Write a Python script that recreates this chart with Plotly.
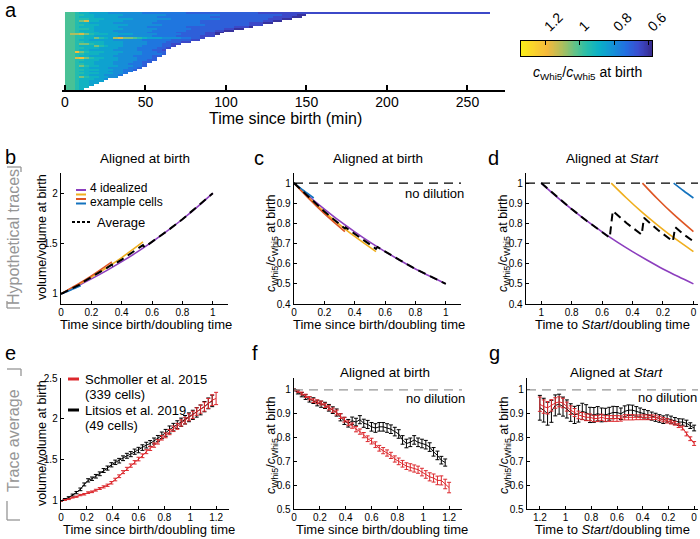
import numpy as np
import plotly.graph_objects as go

W, H = 700, 539
FONT = "Liberation Sans, Arial, sans-serif"


def px(x):
    return x / W


def py(y):
    return 1 - y / H


# ---------------- Panel a : single-cell heatmap (3-min bins) ----------------
bin_minutes = 3
level_codes = "0123456789ABCD"
level_values = [0.60, 0.65, 0.70, 0.75, 0.80, 0.85, 0.90, 0.95, 1.00, 1.05, 1.10, 1.15, 1.20, 1.25]
heat_rows = [
    "8876655554 4444443333 3333322222 2222222222 1111111111 1111111111 1111111111 1111111111 11111111",
    "8877665555 5544444444 4333333333 3322222222 2222211100",
    "8876665555 5444444443 3333333333 2222222222 222111100",
    "8877766655 5555444444 4433333333 3322222222 2211100",
    "8879B66555 5544444443 3333333322 2222222222 21100",
    "8876655555 4444444433 3333333322 2222222211 100",
    "8877666555 5554444444 3333333332 2222222211 1",
    "8876665555 5444444333 3333322222 222221110",
    "8877765555 5544444443 3333332222 2221100",
    "8876665555 4444444433 3333322222 21100",
    "8877666555 5444444333 3332222221 100",
    "8AAB976665 5555444443 3333222221 10",
    "8877665555 5444444433 3332222211 1",
    "8877669765 AB99876555 444433221",
    "8876655555 4444443333 33222211",
    "8877666655 5544444333 322211",
    "8879976655 5544444333 2211",
    "8876669765 5544443333 221",
    "8877666555 5444433332 21",
    "8876655555 4444433322 1",
    "88C9766655 5544443332 2",
    "8877666555 5444443333 2",
    "8876655555 4444333322",
    "88BC976655 544443332",
    "8877666555 544443322",
    "8876665555 44443322",
    "8877665555 4443332",
    "8879766555 5444332",
    "8876655554 444332",
    "8877666555 44332",
    "8876655554 4433",
    "8877666555 443",
    "8876655544 43",
    "8879766554 4",
    "887666554",
    "88766555",
    "8876655",
    "887665",
    "88766",
    "8876",
]
a_xticks = [0, 50, 100, 150, 200, 250]
cbar_lo, cbar_hi = 0.58, 1.34
cbar_ticks = [1.2, 1.0, 0.8, 0.6]
cbar_ticktext = ["1.2", "1", "0.8", "0.6"]

# ---------------- Panels b-d : idealized example cells ----------------
purple_t = [0.0, 0.1, 0.2, 0.3, 0.4, 0.5, 0.6, 0.7, 0.8, 0.9, 1.0]
purple_vol = [1.000, 1.072, 1.149, 1.231, 1.320, 1.414, 1.516, 1.625, 1.741, 1.866, 2.000]
purple_conc = [1.000, 0.933, 0.871, 0.812, 0.758, 0.707, 0.660, 0.616, 0.574, 0.536, 0.500]
orange_t = [0.0, 0.1, 0.2, 0.3, 0.4, 0.54]
orange_vol = [1.000, 1.080, 1.167, 1.260, 1.361, 1.516]
orange_conc = [1.000, 0.926, 0.857, 0.794, 0.735, 0.660]
red_t = [0.0, 0.1, 0.2, 0.335]
red_vol = [1.000, 1.086, 1.179, 1.318]
red_conc = [1.000, 0.921, 0.848, 0.759]
blue_t = [0.0, 0.065, 0.13]
blue_vol = [1.000, 1.039, 1.080]
blue_conc = [1.000, 0.962, 0.926]
avg_t = [0.0, 0.05, 0.1, 0.13, 0.14, 0.2, 0.3, 0.335, 0.34, 0.4, 0.5, 0.54, 0.55, 0.6, 0.7, 0.8, 0.9, 1.0]
avg_vol = [1.000, 1.037, 1.075, 1.098, 1.113, 1.165, 1.257, 1.291, 1.283, 1.341, 1.442, 1.485, 1.464,
           1.516, 1.625, 1.741, 1.866, 2.000]
avg_conc = [1.000, 0.965, 0.931, 0.911, 0.899, 0.859, 0.796, 0.775, 0.780, 0.747, 0.694, 0.674, 0.683,
            0.660, 0.616, 0.574, 0.536, 0.500]
# aligned at Start (time to Start)
purple_start_x = [1.0, 0.9, 0.8, 0.7, 0.6, 0.5, 0.4, 0.3, 0.2, 0.1, 0.0]
orange_start_x = [0.54, 0.44, 0.34, 0.24, 0.14, 0.0]
red_start_x = [0.335, 0.235, 0.135, 0.0]
blue_start_x = [0.13, 0.065, 0.0]
avg_start_x = [1.0, 0.9, 0.8, 0.7, 0.6, 0.55, 0.53, 0.44, 0.345, 0.34, 0.325, 0.235, 0.14, 0.135, 0.12, 0.065, 0.0]
avg_start = [1.000, 0.933, 0.871, 0.812, 0.758, 0.729, 0.862, 0.802, 0.747, 0.744, 0.828, 0.768, 0.714,
             0.711, 0.781, 0.746, 0.711]

# ---------------- Panels e-g : trace averages ----------------
t_grid = [0.00, 0.03, 0.06, 0.09, 0.12, 0.15, 0.18, 0.21, 0.24, 0.27, 0.30, 0.33, 0.36, 0.39, 0.42,
          0.45, 0.48, 0.51, 0.54, 0.57, 0.60, 0.63, 0.66, 0.69, 0.72, 0.75, 0.78, 0.81, 0.84, 0.87,
          0.90, 0.93, 0.96, 0.99, 1.02, 1.05, 1.08, 1.11, 1.14, 1.17, 1.20]
schm_vol = [1.00, 1.01, 1.02, 1.04, 1.05, 1.07, 1.08, 1.10, 1.11, 1.13, 1.15, 1.17, 1.19, 1.22, 1.26,
            1.30, 1.35, 1.39, 1.43, 1.47, 1.51, 1.55, 1.60, 1.64, 1.68, 1.72, 1.77, 1.80, 1.84, 1.88,
            1.91, 1.95, 1.98, 2.02, 2.05, 2.09, 2.12, 2.15, 2.19, 2.23, 2.25]
schm_vol_err = [0.003, 0.004, 0.005, 0.006, 0.007, 0.008, 0.009, 0.010, 0.010, 0.011, 0.012, 0.013, 0.014,
                0.015, 0.016, 0.017, 0.018, 0.019, 0.020, 0.021, 0.022, 0.023, 0.024, 0.025, 0.026, 0.027,
                0.028, 0.030, 0.032, 0.034, 0.036, 0.038, 0.040, 0.042, 0.044, 0.046, 0.050, 0.055, 0.060,
                0.065, 0.075]
lits_vol = [1.00, 1.02, 1.04, 1.07, 1.10, 1.14, 1.20, 1.25, 1.27, 1.30, 1.33, 1.37, 1.40, 1.44, 1.47,
            1.49, 1.52, 1.55, 1.57, 1.60, 1.62, 1.65, 1.68, 1.70, 1.73, 1.76, 1.80, 1.83, 1.87, 1.90,
            1.93, 1.96, 1.99, 2.02, 2.05, 2.08, 2.11, 2.15, 2.19, 2.22]
lits_vol_err = [0.004, 0.008, 0.010, 0.012, 0.014, 0.016, 0.018, 0.020, 0.021, 0.022, 0.023, 0.024, 0.025,
                0.026, 0.027, 0.028, 0.029, 0.030, 0.031, 0.032, 0.033, 0.034, 0.035, 0.036, 0.037, 0.038,
                0.040, 0.042, 0.044, 0.046, 0.048, 0.050, 0.052, 0.054, 0.056, 0.058, 0.060, 0.063, 0.066,
                0.070]
schm_conc = [1.000, 0.995, 0.985, 0.975, 0.965, 0.955, 0.950, 0.945, 0.935, 0.925, 0.915, 0.905, 0.890,
             0.875, 0.860, 0.850, 0.835, 0.825, 0.810, 0.795, 0.785, 0.770, 0.755, 0.745, 0.735, 0.725,
             0.710, 0.700, 0.690, 0.680, 0.675, 0.670, 0.665, 0.655, 0.645, 0.635, 0.630, 0.620, 0.620,
             0.605, 0.590]
schm_conc_err = [0.003, 0.005, 0.006, 0.007, 0.007, 0.008, 0.008, 0.008, 0.009, 0.009, 0.009, 0.010, 0.010,
                 0.010, 0.010, 0.011, 0.011, 0.011, 0.011, 0.012, 0.012, 0.012, 0.012, 0.013, 0.013, 0.013,
                 0.013, 0.014, 0.014, 0.014, 0.015, 0.015, 0.015, 0.016, 0.016, 0.017, 0.017, 0.018, 0.019,
                 0.020, 0.022]
lits_conc = [1.000, 0.990, 0.980, 0.970, 0.960, 0.955, 0.945, 0.940, 0.935, 0.925, 0.915, 0.905, 0.885,
             0.870, 0.860, 0.870, 0.865, 0.875, 0.860, 0.855, 0.845, 0.840, 0.845, 0.845, 0.840, 0.835,
             0.825, 0.815, 0.790, 0.775, 0.780, 0.790, 0.780, 0.775, 0.770, 0.760, 0.740, 0.725, 0.705,
             0.695]
lits_conc_err = [0.004, 0.007, 0.009, 0.010, 0.011, 0.012, 0.012, 0.013, 0.013, 0.014, 0.014, 0.015, 0.015,
                 0.015, 0.016, 0.016, 0.016, 0.017, 0.017, 0.017, 0.018, 0.018, 0.018, 0.018, 0.018, 0.018,
                 0.018, 0.018, 0.018, 0.018, 0.018, 0.018, 0.018, 0.018, 0.018, 0.018, 0.018, 0.018, 0.016,
                 0.015]
# aligned at Start: x = time to Start / doubling time (same grid, 0 .. 1.2)
schm_start = [0.775, 0.795, 0.815, 0.840, 0.850, 0.860, 0.865, 0.870, 0.875, 0.880, 0.885, 0.885, 0.885,
              0.885, 0.885, 0.885, 0.885, 0.885, 0.885, 0.880, 0.880, 0.880, 0.880, 0.880, 0.885, 0.880,
              0.880, 0.885, 0.885, 0.890, 0.895, 0.905, 0.915, 0.930, 0.945, 0.950, 0.945, 0.935, 0.925,
              0.930, 0.940]
schm_start_err = [0.008, 0.008, 0.008, 0.008, 0.008, 0.008, 0.008, 0.009, 0.009, 0.009, 0.009, 0.010, 0.010,
                  0.010, 0.010, 0.010, 0.011, 0.011, 0.011, 0.011, 0.012, 0.012, 0.012, 0.012, 0.013, 0.013,
                  0.013, 0.014, 0.014, 0.015, 0.016, 0.017, 0.018, 0.019, 0.020, 0.021, 0.022, 0.024, 0.026,
                  0.028, 0.030]
lits_start = [0.840, 0.850, 0.860, 0.865, 0.865, 0.870, 0.875, 0.880, 0.875, 0.880, 0.885, 0.890, 0.895,
              0.900, 0.905, 0.910, 0.915, 0.915, 0.910, 0.900, 0.905, 0.905, 0.900, 0.895, 0.895, 0.900,
              0.895, 0.895, 0.905, 0.910, 0.900, 0.895, 0.905, 0.920, 0.930, 0.940, 0.935, 0.910, 0.900,
              0.915, 0.925]
lits_start_err = [0.012, 0.012, 0.013, 0.013, 0.014, 0.014, 0.015, 0.015, 0.016, 0.016, 0.017, 0.017, 0.018,
                  0.018, 0.019, 0.020, 0.021, 0.022, 0.023, 0.024, 0.025, 0.026, 0.027, 0.028, 0.029, 0.030,
                  0.031, 0.032, 0.033, 0.034, 0.035, 0.036, 0.037, 0.038, 0.040, 0.042, 0.044, 0.046, 0.048,
                  0.050, 0.052]

# ---------------- styles ----------------
PARULA = [
    [0.00, "rgb(55,42,140)"], [0.10, "rgb(60,75,205)"], [0.20, "rgb(35,110,225)"],
    [0.30, "rgb(20,145,215)"], [0.40, "rgb(10,175,200)"], [0.50, "rgb(40,190,170)"],
    [0.58, "rgb(90,195,140)"], [0.68, "rgb(170,190,95)"], [0.80, "rgb(245,185,60)"],
    [0.90, "rgb(250,210,45)"], [1.00, "rgb(250,240,25)"],
]
C_PURPLE = "rgb(140,62,190)"
C_ORANGE = "rgb(240,175,30)"
C_RED = "rgb(222,85,35)"
C_BLUE = "rgb(20,115,190)"
C_SCHM = "rgb(220,40,45)"
C_GRAY = "rgb(150,150,150)"

fig = go.Figure()

# panel a heatmap
rows = [r.replace(" ", "") for r in heat_rows]
ncol = max(len(r) for r in rows)
z = [[level_values[level_codes.index(c)] for c in r] + [None] * (ncol - len(r)) for r in rows]
fig.add_trace(go.Heatmap(z=z, x0=bin_minutes / 2, dx=bin_minutes, y0=0, dy=1, colorscale=PARULA,
                         zmin=cbar_lo, zmax=cbar_hi, showscale=False, hoverongaps=False,
                         xaxis="x", yaxis="y"))
cb_vals = list(np.linspace(cbar_hi, cbar_lo, 160))
fig.add_trace(go.Heatmap(z=[cb_vals], x=cb_vals, y=[0], colorscale=PARULA, zmin=cbar_lo, zmax=cbar_hi,
                         showscale=False, xaxis="x2", yaxis="y2"))


def line(x, y, color, ax, width=1.6, dash=None, shape="spline"):
    fig.add_trace(go.Scatter(x=x, y=y, mode="lines", xaxis="x" + ax, yaxis="y" + ax,
                             line=dict(color=color, width=width, dash=dash, shape=shape),
                             showlegend=False))


AVG_DASH = "8px,5px"
# b
line(purple_t, purple_vol, C_PURPLE, "3")
line(orange_t, orange_vol, C_ORANGE, "3")
line(red_t, red_vol, C_RED, "3")
line(blue_t, blue_vol, C_BLUE, "3")
line(avg_t, avg_vol, "black", "3", width=2, dash=AVG_DASH, shape="linear")
# c
line(purple_t, purple_conc, C_PURPLE, "4")
line(orange_t, orange_conc, C_ORANGE, "4")
line(red_t, red_conc, C_RED, "4")
line(blue_t, blue_conc, C_BLUE, "4")
line(avg_t, avg_conc, "black", "4", width=2, dash=AVG_DASH, shape="linear")
# d
line(purple_start_x, purple_conc, C_PURPLE, "5")
line(orange_start_x, orange_conc, C_ORANGE, "5")
line(red_start_x, red_conc, C_RED, "5")
line(blue_start_x, blue_conc, C_BLUE, "5")
line(avg_start_x, avg_start, "black", "5", width=2, dash=AVG_DASH, shape="linear")


def errline(x, y, e, color, ax):
    fig.add_trace(go.Scatter(x=x, y=y, mode="lines", xaxis="x" + ax, yaxis="y" + ax,
                             line=dict(color=color, width=1),
                             error_y=dict(type="data", array=e, color=color, thickness=1, width=2),
                             showlegend=False))


nl = len(lits_vol)
errline(t_grid[:nl], lits_vol, lits_vol_err, "black", "6")
errline(t_grid, schm_vol, schm_vol_err, C_SCHM, "6")
errline(t_grid[:nl], lits_conc, lits_conc_err, "black", "7")
errline(t_grid, schm_conc, schm_conc_err, C_SCHM, "7")
errline(t_grid, lits_start, lits_start_err, "black", "8")
errline(t_grid, schm_start, schm_start_err, C_SCHM, "8")

# ---------------- axes ----------------
TICKFONT = dict(size=10, color="black", family=FONT)


def axis(domain, rng, tv, tt, anchor, **kw):
    d = dict(domain=domain, range=rng, tickvals=tv, ticktext=tt, anchor=anchor, showline=True,
             linecolor="black", linewidth=1.3, ticks="inside", ticklen=3, tickwidth=1,
             tickcolor="black", showgrid=False, zeroline=False, tickfont=TICKFONT, fixedrange=True,
             automargin=False)
    d.update(kw)
    return d


layout_axes = {}
layout_axes["xaxis"] = axis([px(62), px(505)], [-1.86, 273.3], a_xticks, [str(v) for v in a_xticks], "y",
                            linewidth=2, ticklen=5, tickwidth=2, ticklabelstandoff=-2,
                            tickfont=dict(size=14, color="black", family=FONT))
layout_axes["yaxis"] = dict(domain=[py(90), py(12)], range=[len(rows) - 0.5, -0.5], visible=False,
                            anchor="x", fixedrange=True, automargin=False)
layout_axes["xaxis2"] = axis([px(521), px(652)], [cbar_hi, cbar_lo], cbar_ticks, cbar_ticktext, "y2",
                             side="top", mirror=True, linewidth=1, ticklen=4, tickangle=-45,
                             tickfont=dict(size=14, color="black", family=FONT))
layout_axes["yaxis2"] = dict(domain=[py(56), py(41)], range=[-0.5, 0.5], showticklabels=False,
                             ticks="", showline=True, mirror=True, linecolor="black", linewidth=1,
                             anchor="x2", showgrid=False, zeroline=False, fixedrange=True,
                             automargin=False)

ytop_bd, ybot_bd = 173, 304
ytop_eg, ybot_eg = 378, 509
x01 = [0, 0.2, 0.4, 0.6, 0.8, 1.0]
x01t = ["0", "0.2", "0.4", "0.6", "0.8", "1"]
x012 = [0, 0.2, 0.4, 0.6, 0.8, 1.0, 1.2]
x012t = ["0", "0.2", "0.4", "0.6", "0.8", "1", "1.2"]
c_ticks = [0.4, 0.5, 0.6, 0.7, 0.8, 0.9, 1.0]
c_tt = ["0.4", "0.5", "0.6", "0.7", "0.8", "0.9", "1"]
f_ticks = [0.5, 0.6, 0.7, 0.8, 0.9, 1.0]
f_tt = ["0.5", "0.6", "0.7", "0.8", "0.9", "1"]
XL = dict(ticklabelstandoff=-1)

layout_axes["xaxis3"] = axis([px(61), px(228)], [0, 1.1], x01, x01t, "y3", **XL)
layout_axes["yaxis3"] = axis([py(ybot_bd), py(ytop_bd)], [0.9, 2.2], [1, 1.5, 2], ["1", "1.5", "2"], "x3")
layout_axes["xaxis4"] = axis([px(294), px(461)], [0, 1.1], x01, x01t, "y4", **XL)
layout_axes["yaxis4"] = axis([py(ybot_bd), py(ytop_bd)], [0.4, 1.05], c_ticks, c_tt, "x4")
layout_axes["xaxis5"] = axis([px(526), px(698)], [1.1, -0.03], x01, x01t, "y5", **XL)
layout_axes["yaxis5"] = axis([py(ybot_bd), py(ytop_bd)], [0.4, 1.05], c_ticks, c_tt, "x5")
layout_axes["xaxis6"] = axis([px(61), px(229)], [0, 1.3], x012, x012t, "y6", **XL)
layout_axes["yaxis6"] = axis([py(ybot_eg), py(ytop_eg)], [0.9, 2.5], [1, 1.5, 2, 2.5],
                             ["1", "1.5", "2", "2.5"], "x6")
layout_axes["xaxis7"] = axis([px(294), px(462)], [0, 1.3], x012, x012t, "y7", **XL)
layout_axes["yaxis7"] = axis([py(ybot_eg), py(ytop_eg)], [0.5, 1.05], f_ticks, f_tt, "x7")
layout_axes["xaxis8"] = axis([px(527), px(698)], [1.3, -0.03], x012, x012t, "y8", **XL)
layout_axes["yaxis8"] = axis([py(ybot_eg), py(ytop_eg)], [0.5, 1.05], f_ticks, f_tt, "x8")

# ---------------- annotations ----------------
ann = []


def text(t, x, y, size, xanchor="center", yanchor="middle", angle=0, color="black"):
    ann.append(dict(text=t, x=px(x), y=py(y), xref="paper", yref="paper", showarrow=False,
                    xanchor=xanchor, yanchor=yanchor, textangle=angle,
                    font=dict(size=size, color=color, family=FONT)))


CW = "<i>c</i><sub>Whi5</sub>/<i>c</i><sub>Whi5</sub> at birth"
for lab, x, y in [("a", 3, 10), ("b", 3, 157), ("c", 252, 158), ("d", 486, 158),
                  ("e", 3, 353), ("f", 250, 353), ("g", 487, 353)]:
    text(lab, x, y, 20, xanchor="left")
text("Time since birth (min)", 285, 119, 16)
text(CW, 587, 73, 14)

text("Aligned at birth", 145, 159, 13.5)
text("Aligned at birth", 378, 159, 13.5)
text("Aligned at <i>Start</i>", 613, 159, 13.5)
text("Aligned at birth", 385, 372, 13.5)
text("Aligned at <i>Start</i>", 617, 372, 13.5)

for xc in (146, 379):
    text("Time since birth/doubling time", xc, 324, 13)
text("Time to <i>Start</i>/doubling time", 612, 324, 13)
for xc in (149, 382):
    text("Time since birth/doubling time", xc, 529, 13)
text("Time to <i>Start</i>/doubling time", 612, 529, 13)

text("volume/volume at birth", 42, 237, 12.5, angle=-90)
text(CW, 272, 243, 12.5, angle=-90)
text(CW, 504, 243, 12.5, angle=-90)
text("volume/volume at birth", 42, 443, 12.5, angle=-90)
text(CW, 272, 445, 12.5, angle=-90)
text(CW, 505, 445, 12.5, angle=-90)

text("no dilution", 466, 193, 13, xanchor="right")
text("no dilution", 467, 398, 13, xanchor="right")
text("no dilution", 699, 397, 13, xanchor="right")

text("Hypothetical traces", 13, 237, 16, angle=-90, color=C_GRAY)
text("Trace average", 13, 441, 16, angle=-90, color=C_GRAY)

# legend texts
text("4 idealized", 88, 188.5, 12, xanchor="left")
text("example cells", 88, 201.5, 12, xanchor="left")
text("Average", 95, 222, 13, xanchor="left")
text("Schmoller et al. 2015", 83, 379, 13, xanchor="left")
text("(339 cells)", 83, 394, 13, xanchor="left")
text("Litsios et al. 2019", 83, 410, 13, xanchor="left")
text("(49 cells)", 83, 425, 13, xanchor="left")

# ---------------- shapes ----------------
shapes = []


def pline(x0, y0, x1, y1, color, width=2, dash=None):
    shapes.append(dict(type="line", xref="paper", yref="paper", x0=px(x0), y0=py(y0), x1=px(x1),
                       y1=py(y1), line=dict(color=color, width=width, dash=dash)))


for ax, col in (("4", "black"), ("5", "black"), ("7", C_GRAY), ("8", C_GRAY)):
    shapes.append(dict(type="line", xref="x" + ax + " domain", yref="y" + ax, x0=0, x1=1, y0=1, y1=1,
                       line=dict(color=col, width=1.3, dash="9px,6px")))

# legend marks b
pline(76, 190, 86, 190, C_PURPLE)
pline(76, 194.5, 86, 194.5, C_ORANGE)
pline(76, 199, 86, 199, C_RED)
pline(76, 203.5, 86, 203.5, C_BLUE)
pline(72, 222, 92, 222, "black", width=2, dash="3px,2px")
# legend marks e
pline(68, 379, 79, 379, C_SCHM, width=3)
pline(68, 410, 79, 410, "black", width=3)

# group brackets
BR = dict(color=C_GRAY, width=1.3)
pline(7, 167, 21, 167, **BR)
pline(21, 167, 21, 172, **BR)
pline(7, 301, 7, 308, **BR)
pline(7, 308, 20, 308, **BR)
pline(7, 369, 21, 369, **BR)
pline(21, 369, 21, 376, **BR)
pline(7, 501, 7, 520, **BR)
pline(7, 520, 20, 520, **BR)

fig.update_layout(
    width=W, height=H, margin=dict(l=0, r=0, t=0, b=0),
    paper_bgcolor="white", plot_bgcolor="rgba(0,0,0,0)",
    showlegend=False, font=dict(family=FONT, color="black"),
    annotations=ann, shapes=shapes, **layout_axes,
)

fig.write_html("out.html", config={"displayModeBar": False, "staticPlot": True},
               post_script="document.body.style.margin='0px';")
